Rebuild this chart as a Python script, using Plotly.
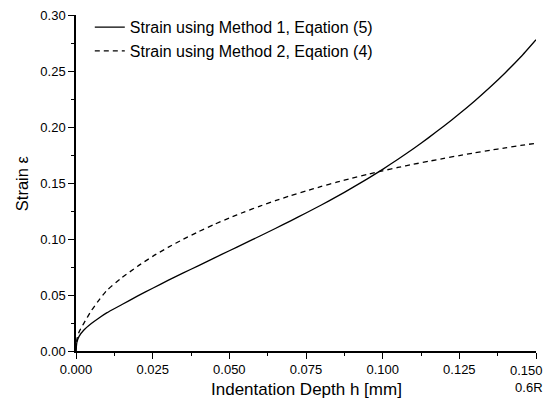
import plotly.graph_objects as go

# Depth h [mm]
h = [0, 0.0003, 0.001, 0.0025, 0.005, 0.0075, 0.010, 0.015, 0.020, 0.025, 0.030,
     0.035, 0.040, 0.045, 0.050, 0.055, 0.060, 0.065, 0.070, 0.075, 0.080, 0.085,
     0.090, 0.095, 0.100, 0.105, 0.110, 0.115, 0.120, 0.125, 0.130, 0.135, 0.140,
     0.145, 0.150]

# Method 1, Equation (5) - solid
e1 = [0, 0.008, 0.013, 0.0185, 0.0245, 0.0295, 0.034, 0.0415, 0.049, 0.056, 0.063,
      0.0697, 0.0763, 0.0829, 0.0895, 0.0961, 0.1027, 0.1094, 0.1162, 0.1232, 0.1304,
      0.1378, 0.1456, 0.1537, 0.1622, 0.1712, 0.1806, 0.1905, 0.2009, 0.2118, 0.2233,
      0.2355, 0.2485, 0.2625, 0.278]

# Method 2, Equation (4) - dashed
e2 = [0, 0.0105, 0.017, 0.0245, 0.036, 0.0455, 0.054, 0.0655, 0.0755, 0.0845, 0.0925,
      0.0998, 0.1066, 0.1129, 0.1188, 0.1243, 0.1294, 0.1342, 0.1387, 0.1429, 0.1469,
      0.1507, 0.1543, 0.1577, 0.1609, 0.1639, 0.1667, 0.1694, 0.1720, 0.1745, 0.1769,
      0.1792, 0.1814, 0.1835, 0.1855]

xticks = [0, 0.025, 0.05, 0.075, 0.1, 0.125, 0.15]
xlabels = ["0.000", "0.025", "0.050", "0.075", "0.100", "0.125", ""]
last_xlabel = "0.150<br>0.6R"
yticks = [0, 0.05, 0.10, 0.15, 0.20, 0.25, 0.30]
ylabels = ["0.00", "0.05", "0.10", "0.15", "0.20", "0.25", "0.30"]

fig = go.Figure()
fig.add_trace(go.Scatter(x=h, y=e1, mode="lines",
                         line=dict(color="black", width=1.3, shape="spline", smoothing=0.5),
                         name="Strain using Method 1, Eqation (5)"))
fig.add_trace(go.Scatter(x=h, y=e2, mode="lines",
                         line=dict(color="black", width=1.3, dash="5px,4px", shape="spline", smoothing=0.5),
                         name="Strain using Method 2, Eqation (4)"))

font = "Liberation Sans, Arial, sans-serif"
axis_common = dict(ticks="outside", ticklen=6, tickwidth=1.2, tickcolor="black",
                   showline=True, linecolor="black", linewidth=1.5, showgrid=False,
                   zeroline=False, automargin=False, tickfont=dict(size=13),
                   ticklabeloverflow="allow")
# page body has an 8px default margin, so the figure is sized to compensate
fig.update_layout(
    width=537, height=392,
    margin=dict(l=68, r=9, t=7, b=49, autoexpand=False),
    paper_bgcolor="white", plot_bgcolor="white",
    font=dict(family=font, color="black", size=13),
    showlegend=True,
    legend=dict(x=0.030, y=1.0145, xanchor="left", yanchor="top", font=dict(size=16),
                bgcolor="rgba(0,0,0,0)", tracegroupgap=0),
    xaxis=dict(range=[0, 0.15], tickvals=xticks, ticktext=xlabels,
               minor=dict(dtick=0.0125, tick0=0, ticks="outside", ticklen=3, tickcolor="black"),
               **axis_common),
    yaxis=dict(range=[0, 0.30], tickvals=yticks, ticktext=ylabels,
               minor=dict(dtick=0.025, tick0=0, ticks="outside", ticklen=3, tickcolor="black"),
               **axis_common),
    annotations=[
        dict(text=last_xlabel, xref="paper", yref="paper", x=1 + 9 / 460, y=-0.030,
             xanchor="right", yanchor="top", align="right", showarrow=False,
             font=dict(size=13)),
        dict(text="Indentation Depth h [mm]", xref="paper", yref="paper", x=0.5, y=-0.115,
             xanchor="center", yanchor="middle", showarrow=False, font=dict(size=17)),
        dict(text="Strain ε", xref="paper", yref="paper", x=-0.117, y=0.5,
             xanchor="center", yanchor="middle", textangle=-90, showarrow=False,
             font=dict(size=16.5)),
    ],
)

fig.write_html("out.html")
